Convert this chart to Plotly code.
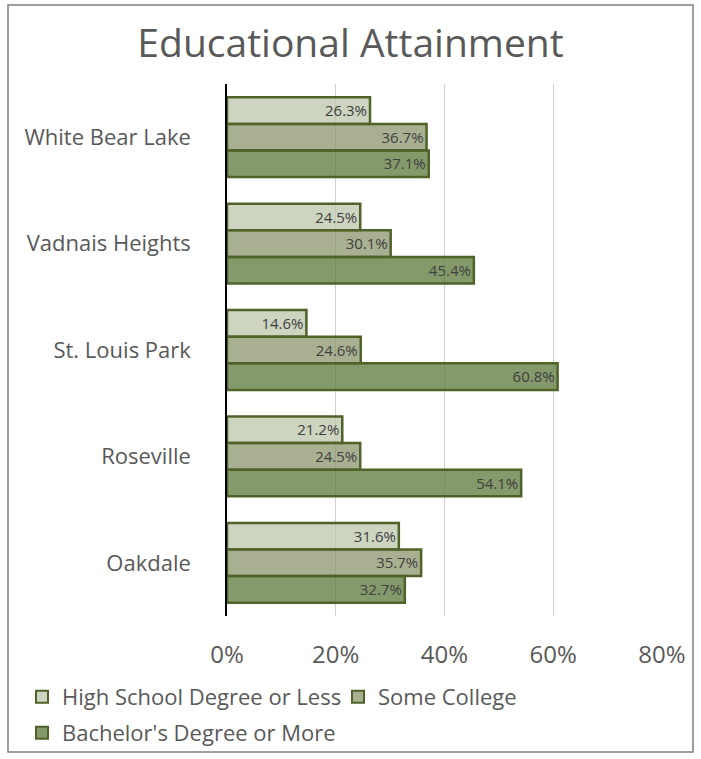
import plotly.graph_objects as go

cities = ["White Bear Lake", "Vadnais Heights", "St. Louis Park", "Roseville", "Oakdale"]
high_school = [26.3, 24.5, 14.6, 21.2, 31.6]
some_college = [36.7, 30.1, 24.6, 24.5, 35.7]
bachelors = [37.1, 45.4, 60.8, 54.1, 32.7]
x_ticks = [0, 20, 40, 60, 80]
x_tick_labels = ["0%", "20%", "40%", "60%", "80%"]

# one legend box per series so the entries can sit on two rows
series = [
    ("High School Degree or Less", high_school, "rgba(188,197,171,0.75)", "legend", 22, 697),
    ("Some College", some_college, "rgba(139,150,108,0.75)", "legend2", 338, 697),
    ("Bachelor's Degree or More", bachelors, "rgba(91,120,58,0.75)", "legend3", 22, 733),
]

FONT = "Open Sans"
W, H = 701, 759
L, R, T, B = 227, 662, 84, 616
pw, ph = R - L, B - T

def px(x):
    return (x - L) / pw

def py(y):
    return (B - y) / ph

legend_font = dict(family=FONT, size=22, color="#595959")

fig = go.Figure()
legends = {}
for name, vals, color, leg, lx, ly in series:
    fig.add_trace(go.Bar(
        y=cities, x=vals, name=name, orientation="h", legend=leg,
        marker=dict(color=color, line=dict(color="#4f6228", width=2.5)),
        text=[f"{v:.1f}%" for v in vals],
        textposition="inside", insidetextanchor="end", textangle=0,
        textfont=dict(family=FONT, size=16, color="#404040"),
        cliponaxis=False,
    ))
    legends[leg] = dict(orientation="h", x=lx / W, xref="container", xanchor="left",
                        y=1 - ly / H, yref="container", yanchor="middle",
                        font=legend_font, itemsizing="constant",
                        bgcolor="rgba(0,0,0,0)")

fig.update_layout(
    width=W, height=H,
    margin=dict(l=L, r=W - R, t=T, b=H - B, autoexpand=False),
    paper_bgcolor="white", plot_bgcolor="white",
    barmode="group", bargap=0.25, bargroupgap=0,
    title=dict(text="Educational Attainment", x=0.5, xref="container", xanchor="center",
               y=1 - 43 / H, yref="container", yanchor="middle",
               font=dict(family=FONT, size=39, color="#595959")),
    font=dict(family=FONT, color="#595959"),
    showlegend=True,
    **legends,
    xaxis=dict(range=[0, 80], tickvals=x_ticks, ticktext=x_tick_labels,
               showgrid=True, gridcolor="#d0d0d0", gridwidth=1.2,
               zeroline=False, showline=False, ticks="", automargin=False,
               ticklabelstandoff=22,
               tickfont=dict(family=FONT, size=24, color="#595959")),
    yaxis=dict(autorange="reversed", showline=True, linecolor="#000000", linewidth=1.5,
               ticks="", ticklabelstandoff=30, automargin=False,
               tickfont=dict(family=FONT, size=22, color="#595959")),
    shapes=[dict(type="rect", xref="paper", yref="paper",
                 x0=px(8), x1=px(693), y0=py(752), y1=py(5),
                 line=dict(color="#7f7f7f", width=1.5), fillcolor="rgba(0,0,0,0)")],
)

fig.write_html("out.html")
